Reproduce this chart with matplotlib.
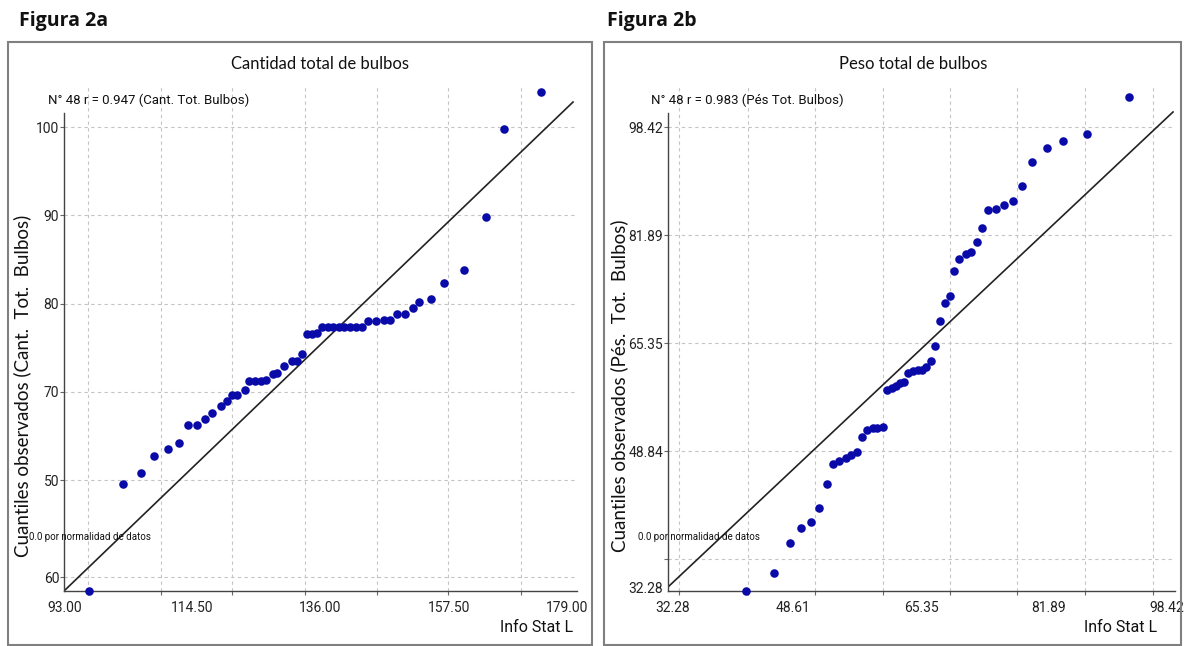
import matplotlib
matplotlib.use("Agg")
import matplotlib.pyplot as plt
from matplotlib.patches import Rectangle
from matplotlib.ticker import FixedLocator, FixedFormatter, NullFormatter
import matplotlib.transforms as mtransforms

# ---------------- Data: Figura 2a (Cantidad total de bulbos) ----------------
a_x = [97.19, 102.89, 105.91, 108.09, 110.44, 112.28, 113.79, 115.30, 116.64, 117.81,
       119.32, 120.33, 121.16, 122.00, 123.34, 124.01, 125.02, 126.03, 126.86, 128.04,
       128.71, 129.88, 131.22, 132.06, 132.90, 133.74, 134.58, 135.41, 136.25, 137.26,
       138.10, 139.10, 139.94, 140.95, 141.95, 142.96, 143.96, 145.31, 146.65, 147.65,
       148.83, 150.17, 151.51, 152.51, 154.53, 156.71, 160.06, 163.75, 166.76, 172.97]
a_y = [47.45, 59.57, 60.82, 62.74, 63.53, 64.21, 66.25, 66.25, 66.93, 67.61,
       68.40, 68.97, 69.65, 69.65, 70.22, 71.23, 71.23, 71.23, 71.34, 72.03,
       72.14, 72.93, 73.50, 73.50, 74.29, 76.56, 76.56, 76.67, 77.35, 77.35,
       77.35, 77.35, 77.35, 77.35, 77.35, 77.35, 78.03, 78.03, 78.14, 78.14,
       78.82, 78.82, 79.50, 80.18, 80.52, 82.33, 83.81, 89.81, 99.77, 103.96]
a_line_x = [93.0, 178.33]
a_line_y = [47.45, 102.83]
a_xtick_vals = [93.00, 114.50, 136.00, 157.50, 179.00]
a_xtick_labels = ["93.00", "114.50", "136.00", "157.50", "179.00"]
a_xgrid = [97.02, 109.26, 121.16, 133.40, 145.47, 157.38, 169.61]
a_ytick_vals = [100, 90, 80, 70, 60, 49]
a_ytick_labels = ["100", "90", "80", "70", "50", "60"]
a_ygrid = [100, 90, 80, 70, 60, 49]
a_title = "Cantidad total de bulbos"
a_note = "N° 48 r = 0.947 (Cant. Tot. Bulbos)"
a_ylabel = "Cuantiles observados (Cant.  Tot.  Bulbos)"

# ---------------- Data: Figura 2b (Peso total de bulbos) ----------------
b_x = [42.45, 46.11, 48.19, 49.63, 50.93, 51.98, 53.02, 53.80, 54.59, 55.50,
       56.15, 56.93, 57.59, 58.24, 59.02, 59.54, 60.33, 60.85, 61.50, 62.02,
       62.54, 63.07, 63.59, 64.24, 64.89, 65.41, 65.94, 66.59, 67.11, 67.76,
       68.41, 69.07, 69.59, 70.24, 71.15, 71.80, 72.59, 73.24, 74.02, 75.07,
       76.11, 77.28, 78.46, 79.76, 81.72, 83.81, 86.94, 92.42]
b_y = [27.42, 30.17, 34.76, 37.06, 37.98, 40.12, 43.79, 46.85, 47.31, 47.77,
       48.23, 48.69, 50.98, 52.05, 52.36, 52.36, 52.51, 58.18, 58.48, 58.79,
       59.25, 59.40, 60.78, 61.08, 61.24, 61.24, 61.69, 62.61, 64.91, 68.73,
       71.49, 72.56, 76.39, 78.22, 78.99, 79.29, 80.82, 82.96, 85.72, 85.87,
       86.48, 87.10, 89.39, 93.06, 95.21, 96.28, 97.35, 103.01]
b_line_x = [32.28, 98.16]
b_line_y = [28.03, 100.72]
b_xtick_vals = [32.28, 48.61, 65.35, 81.89, 98.42]
b_xtick_labels = ["32.28", "48.61", "65.35", "81.89", "98.42"]
b_xgrid = [33.71, 42.72, 51.46, 60.33, 69.07, 77.81, 86.68, 95.55]
b_ytick_vals = [98.42, 81.89, 65.35, 48.84, 28.03]
b_ytick_labels = ["98.42", "81.89", "65.35", "48.84", "32.28"]
b_ygrid = [98.42, 81.89, 65.35, 48.84, 32.28]
b_title = "Peso total de bulbos"
b_note = "N° 48 r = 0.983 (Pés Tot. Bulbos)"
b_ylabel = "Cuantiles observados (Pés.  Tot.  Bulbos)"

note_small = "0.0 por normalidad de datos"
footer = "Info Stat L"

# ---------------- Layout ----------------
W, H = 1186, 646
fig = plt.figure(figsize=(W / 100, H / 100), dpi=100)
fig.patch.set_facecolor("white")

NARROW = ["Roboto", "DejaVu Sans"]
HUMAN = ["Lato", "DejaVu Sans"]
DOT = "#0a0aa8"


def fx(px):
    return px / W


def fy(py):
    return 1 - py / H


def panel(frame, box, xlim, ylim, spine_top, x, y, lx, ly,
          xt, xtl, xg, yt, ytl, yg, title, title_x, note, note_x, ylabel, ylabel_x,
          small_x, footer_r, last_dx, first_dx):
    fl, ft, fr, fb = frame
    fig.patches.append(Rectangle((fx(fl), fy(fb)), fx(fr - fl), fy(ft) - fy(fb),
                                 transform=fig.transFigure, fill=False,
                                 edgecolor="#808080", linewidth=1.5))
    l, t, r, b = box
    ax = fig.add_axes([fx(l), fy(b), fx(r - l), fy(t) - fy(b)])
    ax.set_xlim(*xlim)
    ax.set_ylim(*ylim)
    for s in ("top", "right"):
        ax.spines[s].set_visible(False)
    for s in ("left", "bottom"):
        ax.spines[s].set_color("#444444")
        ax.spines[s].set_linewidth(1.0)
    ax.spines["left"].set_bounds(ylim[0], spine_top)

    ax.xaxis.remove_overlapping_locs = False
    ax.yaxis.remove_overlapping_locs = False
    ax.xaxis.set_major_locator(FixedLocator(xt))
    ax.xaxis.set_major_formatter(FixedFormatter(xtl))
    ax.xaxis.set_minor_locator(FixedLocator(xg))
    ax.xaxis.set_minor_formatter(NullFormatter())
    ax.yaxis.set_major_locator(FixedLocator(yt))
    ax.yaxis.set_major_formatter(FixedFormatter(ytl))
    ax.yaxis.set_minor_locator(FixedLocator(yg))
    ax.yaxis.set_minor_formatter(NullFormatter())
    ax.tick_params(which="major", length=0, labelsize=10, colors="#222222")
    ax.tick_params(axis="x", which="major", pad=7)
    ax.tick_params(axis="y", which="major", pad=3.5)
    ax.tick_params(which="minor", length=3, color="#666666", width=0.8)
    for lab in ax.get_xticklabels() + ax.get_yticklabels():
        lab.set_fontfamily(NARROW)
    ax.grid(True, which="minor", color="#c4c4c4", linestyle=(0, (3, 3)), linewidth=0.8)
    ax.set_axisbelow(True)

    ax.plot(lx, ly, color="#222222", linewidth=1.2, zorder=2)
    ax.scatter(x, y, s=38, color=DOT, zorder=3, linewidths=0, clip_on=False)

    labs = ax.get_xticklabels()
    off = mtransforms.ScaledTranslation(last_dx / 100, 0, fig.dpi_scale_trans)
    labs[-1].set_transform(labs[-1].get_transform() + off)
    off0 = mtransforms.ScaledTranslation(first_dx / 100, 0, fig.dpi_scale_trans)
    labs[0].set_transform(labs[0].get_transform() + off0)

    fig.text(fx(title_x), fy(64), title, ha="center", va="center",
             fontsize=12, family=HUMAN, color="#111111")
    fig.text(fx(note_x), fy(100), note, ha="left", va="center",
             fontsize=9.5, family=NARROW, color="#111111")
    fig.text(fx(ylabel_x), fy(386), ylabel, ha="center", va="center", rotation=90,
             fontsize=13.5, family=HUMAN, color="#111111")
    fig.text(fx(small_x), fy(537), note_small, ha="left", va="center",
             fontsize=7, family=NARROW, color="#111111")
    fig.text(fx(footer_r), fy(627), footer, ha="right", va="center",
             fontsize=11.5, family=NARROW, color="#111111")
    return ax


fig.text(fx(19), fy(21), "Figura 2a", ha="left", va="center", fontsize=14,
         fontweight="bold", family=["Open Sans", "DejaVu Sans"], color="#111111")
fig.text(fx(607), fy(21), "Figura 2b", ha="left", va="center", fontsize=14,
         fontweight="bold", family=["Open Sans", "DejaVu Sans"], color="#111111")

panel((8, 42, 592, 645), (64, 85, 577, 591), (93, 179), (47.45, 104.76), 101.59,
      a_x, a_y, a_line_x, a_line_y, a_xtick_vals, a_xtick_labels, a_xgrid,
      a_ytick_vals, a_ytick_labels, a_ygrid,
      a_title, 320, a_note, 48, a_ylabel, 22, 29, 573, -10, 1)

panel((604, 42, 1181, 645), (668, 85, 1175, 591), (32.28, 98.42), (27.42, 104.85), 100.56,
      b_x, b_y, b_line_x, b_line_y, b_xtick_vals, b_xtick_labels, b_xgrid,
      b_ytick_vals, b_ytick_labels, b_ygrid,
      b_title, 913, b_note, 651, b_ylabel, 619, 638, 1157, -8, 5)

fig.savefig("out.png", dpi=100, facecolor="white")
